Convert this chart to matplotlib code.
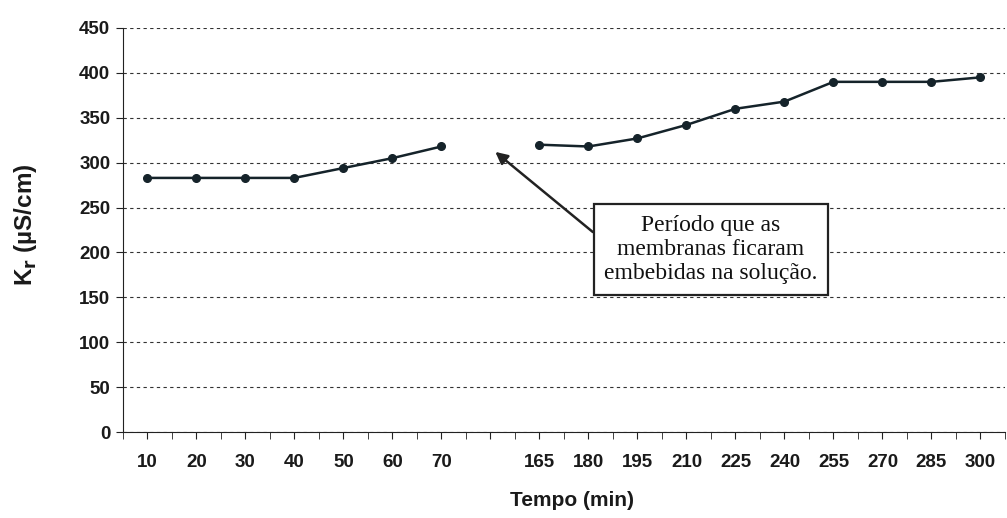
import numpy as np
import matplotlib.pyplot as plt
from matplotlib.ticker import MultipleLocator

# categories (empty slot = period the membranes were soaking)
tempo = ['10', '20', '30', '40', '50', '60', '70', '',
         '165', '180', '195', '210', '225', '240', '255', '270', '285', '300']
kr = [283, 283, 283, 283, 294, 305, 318, np.nan,
      320, 318, 327, 342, 360, 368, 390, 390, 390, 395]

nota = 'Período que as\nmembranas ficaram\nembebidas na solução.'

plt.rcParams['font.family'] = ['Liberation Sans', 'DejaVu Sans']

fig = plt.figure(figsize=(10.07, 5.18), dpi=100)
ax = fig.add_axes([0.122, 0.166, 0.876, 0.780])

x = np.arange(len(tempo))
ax.plot(x, kr, color='#15232a', lw=1.8, marker='o', ms=5.5)

ax.set_xlim(-0.5, len(tempo) - 0.5)
ax.set_ylim(0, 450)
ax.yaxis.set_major_locator(MultipleLocator(50))
ax.set_xticks(x)
ax.set_xticklabels(tempo)
ax.set_xticks(np.arange(len(tempo) + 1) - 0.5, minor=True)

ax.grid(axis='y', ls=(0, (3, 3)), color='#333333', lw=0.8)
ax.set_axisbelow(True)
for s in ['top', 'right']:
    ax.spines[s].set_visible(False)
ax.spines['left'].set_color('#222222')
ax.spines['bottom'].set_color('#222222')

ax.tick_params(axis='both', which='both', direction='out', color='#222222')
ax.tick_params(axis='x', which='major', length=5, pad=11)
ax.tick_params(axis='x', which='minor', length=5)
ax.tick_params(axis='y', length=5, pad=4)
for lab in ax.get_xticklabels() + ax.get_yticklabels():
    lab.set_fontsize(13.5)
    lab.set_fontweight('bold')
    lab.set_color('#1a1a1a')

fig.text(0.025, 0.566, r'K$_\mathbf{r}$ (µS/cm)', rotation=90, ha='center',
         va='center', fontsize=17.5, fontweight='bold', color='#1a1a1a')
fig.text(0.568, 0.015, 'Tempo (min)', ha='center', va='bottom',
         fontsize=15, fontweight='bold', color='#1a1a1a')

ax.annotate(nota, xy=(7.1, 312), xytext=(11.5, 203),
            ha='center', va='center', fontsize=17,
            family=['Liberation Serif', 'DejaVu Serif'], color='#111111',
            linespacing=1.2,
            bbox=dict(boxstyle='square,pad=0.45', fc='white', ec='#222222', lw=1.6),
            arrowprops=dict(arrowstyle='-|>', color='#222222', lw=1.8,
                            mutation_scale=18, relpos=(0.0, 0.62),
                            shrinkA=0, shrinkB=0))

fig.savefig('out.png', dpi=100)
